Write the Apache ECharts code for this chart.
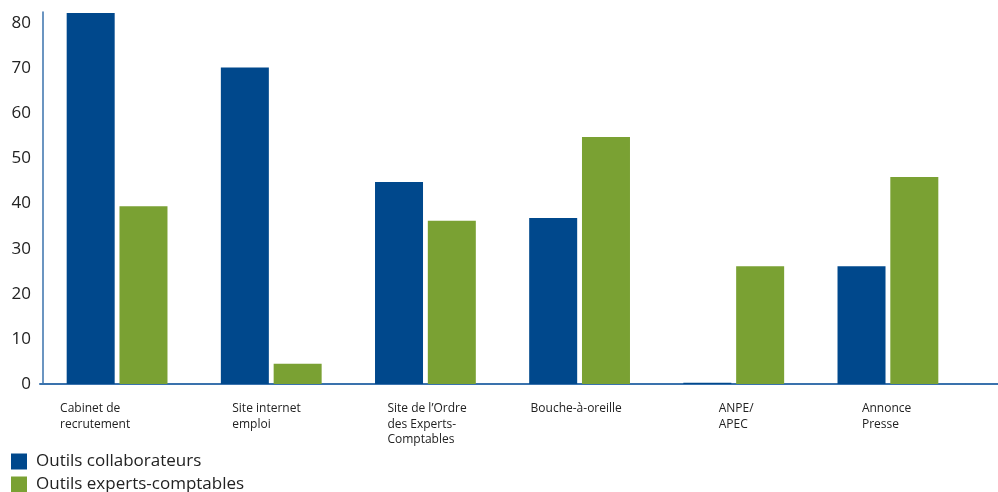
<!DOCTYPE html>
<html>
<head>
<meta charset="utf-8">
<script src="https://cdn.jsdelivr.net/npm/echarts@6/dist/echarts.min.js"></script>
<style>
  html, body { margin: 0; padding: 0; background: #fff; }
  #chart { width: 998px; height: 492px; }
</style>
</head>
<body>
<div id="chart"></div>
<script>
var categories = ['Cabinet de\nrecrutement', 'Site internet\nemploi', "Site de l\u2019Ordre\ndes Experts-\nComptables", 'Bouche-\u00e0-oreille', 'ANPE/\nAPEC', 'Annonce\nPresse'];
var collaborateurs = [82.3, 70.2, 44.8, 36.8, 0.3, 26.1];
var experts = [39.4, 4.5, 36.2, 54.8, 26.1, 45.9];
var seriesNames = ['Outils collaborateurs', 'Outils experts-comptables'];
// shift of each label from its category centre
var labelShift = [-57, -39, -38, -49, -15, -26];

var legendText = { fontFamily: 'Open Sans', fontSize: 17, color: '#222', padding: [0, 0, 0, 4] };

var myChart = echarts.init(document.getElementById('chart'));
myChart.setOption({
    backgroundColor: '#fff',
    animation: false,
    grid: { left: 40, right: 33, top: 12, bottom: 108 },
    legend: [
        {
            left: 11, top: 453, padding: 0,
            itemWidth: 16, itemHeight: 16, icon: 'rect',
            data: [seriesNames[0]],
            textStyle: legendText
        },
        {
            left: 11, top: 476, padding: 0,
            itemWidth: 16, itemHeight: 16, icon: 'rect',
            data: [seriesNames[1]],
            textStyle: legendText
        }
    ],
    xAxis: {
        type: 'category',
        data: categories.map(function (c, i) {
            return { value: c, textStyle: { align: 'left', padding: [0, 0, 0, labelShift[i]] } };
        }),
        axisLine: { show: true, lineStyle: { color: '#3a72ad', width: 2 } },
        axisTick: { show: false },
        axisLabel: {
            interval: 0,
            align: 'left',
            verticalAlign: 'top',
            margin: 17,
            fontFamily: 'Open Sans',
            fontSize: 12,
            lineHeight: 15.5,
            color: '#222'
        }
    },
    yAxis: {
        type: 'value',
        min: 0,
        max: 82.5,
        interval: 10,
        offset: -3,
        axisLine: { show: true, lineStyle: { color: '#3a72ad', width: 1.5 } },
        axisTick: { show: false },
        splitLine: { show: false },
        axisLabel: {
            showMaxLabel: false,
            margin: 12,
            fontFamily: 'Open Sans',
            fontSize: 17,
            color: '#222'
        }
    },
    series: [
        {
            name: seriesNames[0],
            type: 'bar',
            barWidth: 48,
            barGap: '10%',
            itemStyle: { color: '#00488c' },
            data: collaborateurs
        },
        {
            name: seriesNames[1],
            type: 'bar',
            barWidth: 48,
            barGap: '10%',
            itemStyle: { color: '#7aa133' },
            data: experts
        }
    ],
    graphic: [
        {
            type: 'line',
            shape: { x1: 963, y1: 384, x2: 998, y2: 384 },
            style: { stroke: '#3a72ad', lineWidth: 2 }
        }
    ]
});
</script>
</body>
</html>
